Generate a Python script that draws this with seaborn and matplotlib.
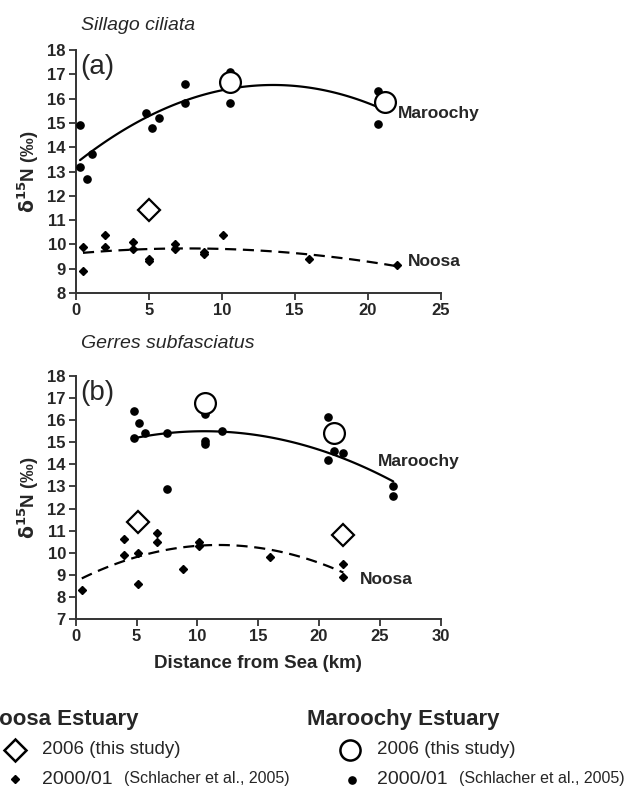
import matplotlib
matplotlib.use("Agg")
import matplotlib.pyplot as plt
import seaborn as sns
import numpy as np
import pandas as pd
from matplotlib.lines import Line2D

sns.set_theme(style="ticks")
plt.rcParams['font.family'] = ['Liberation Sans', 'DejaVu Sans']

# ---------------- Panel (a) Sillago ciliata ----------------
a_mar_x = [0.3, 0.3, 0.8, 1.1, 4.8, 5.2, 5.7, 7.5, 7.5, 10.6, 10.6, 20.7, 20.7]
a_mar_y = [14.9, 13.2, 12.7, 13.7, 15.4, 14.8, 15.2, 16.6, 15.8, 15.8, 17.1, 16.3, 14.95]
a_mar06_x = [10.6, 21.2]
a_mar06_y = [16.7, 15.85]
a_noo_x = [0.5, 0.5, 2.0, 2.0, 3.9, 3.9, 5.0, 5.0, 6.8, 6.8, 8.8, 8.8, 10.1, 16.0, 22.0]
a_noo_y = [9.9, 8.9, 10.4, 9.9, 10.1, 9.8, 9.4, 9.3, 10.0, 9.8, 9.7, 9.6, 10.4, 9.4, 9.15]
a_noo06_x = [5.0]
a_noo06_y = [11.4]

# ---------------- Panel (b) Gerres subfasciatus ----------------
b_mar_x = [4.8, 5.2, 4.8, 5.7, 7.5, 7.5, 10.6, 10.6, 10.6, 12.0, 20.7, 21.2, 22.0, 20.7, 26.1, 26.1]
b_mar_y = [16.4, 15.85, 15.2, 15.4, 15.4, 12.9, 16.3, 15.05, 14.9, 15.5, 16.15, 14.6, 14.5, 14.2, 13.0, 12.55]
b_mar06_x = [10.6, 21.2]
b_mar06_y = [16.8, 15.4]
b_noo_x = [0.5, 4.0, 4.0, 5.1, 5.1, 6.7, 6.7, 8.8, 10.1, 10.1, 16.0, 22.0, 22.0]
b_noo_y = [8.3, 10.6, 9.9, 10.0, 8.6, 10.9, 10.5, 9.25, 10.5, 10.3, 9.8, 9.5, 8.9]
b_noo06_x = [5.1, 22.0]
b_noo06_y = [11.4, 10.8]

a_xticks = [0, 5, 10, 15, 20, 25]
a_yticks = list(range(8, 19))
b_xticks = [0, 5, 10, 15, 20, 25, 30]
b_yticks = list(range(7, 19))

W, H = 637, 798
fig = plt.figure(figsize=(W / 100, H / 100), dpi=100)
ax1 = fig.add_axes([75.7 / W, 1 - 293 / H, 365 / W, 243 / H])
ax2 = fig.add_axes([75.7 / W, 1 - 619 / H, 365 / W, 243 / H])


def draw(ax, mx, my, m6x, m6y, nx, ny, n6x, n6y):
    dm = pd.DataFrame({"x": mx, "y": my})
    dn = pd.DataFrame({"x": nx, "y": ny})
    sns.regplot(data=dm, x="x", y="y", order=2, ci=None, scatter=False, truncate=True,
                ax=ax, line_kws=dict(color="black", lw=1.6))
    sns.regplot(data=dn, x="x", y="y", order=2, ci=None, scatter=False, truncate=True,
                ax=ax, line_kws=dict(color="black", lw=1.6, ls=(0, (5, 3))))
    ax.plot(mx, my, "o", ms=5.2, color="black", ls="none", zorder=3)
    ax.plot(nx, ny, "D", ms=3.6, color="black", ls="none", zorder=3)
    ax.plot(m6x, m6y, "o", ms=15, mfc="white", mec="black", mew=1.6, ls="none", zorder=4)
    ax.plot(n6x, n6y, "D", ms=11, mfc="white", mec="black", mew=1.6, ls="none", zorder=4)


draw(ax1, a_mar_x, a_mar_y, a_mar06_x, a_mar06_y, a_noo_x, a_noo_y, a_noo06_x, a_noo06_y)
draw(ax2, b_mar_x, b_mar_y, b_mar06_x, b_mar06_y, b_noo_x, b_noo_y, b_noo06_x, b_noo06_y)

for ax, xt, yt in [(ax1, a_xticks, a_yticks), (ax2, b_xticks, b_yticks)]:
    ax.set_xlim(xt[0], xt[-1])
    ax.set_ylim(yt[0], yt[-1])
    ax.set_xticks(xt)
    ax.set_yticks(yt)
    ax.set_xlabel("")
    ax.set_ylabel(r"$\mathbf{\delta^{15}}$N (‰)", fontsize=13.5, fontweight="bold", labelpad=5)
    for s in ["top", "right"]:
        ax.spines[s].set_visible(False)
    for s in ["left", "bottom"]:
        ax.spines[s].set_linewidth(1.4)
        ax.spines[s].set_color("#333333")
    ax.tick_params(axis="both", direction="out", length=5, width=1.3, color="#333333",
                   labelsize=12, pad=2)
    for lab in ax.get_xticklabels() + ax.get_yticklabels():
        lab.set_fontweight("bold")

ax2.set_xlabel("Distance from Sea (km)", fontsize=13.5, fontweight="bold", labelpad=8)

# panel titles / letters
fig.text(81 / W, 1 - 25 / H, "Sillago ciliata", fontsize=14, style="italic", va="center", ha="left")
fig.text(81 / W, 1 - 343 / H, "Gerres subfasciatus", fontsize=14, style="italic", va="center", ha="left")
ax1.text(0.012, 0.985, "(a)", transform=ax1.transAxes, fontsize=20, va="top", ha="left")
ax2.text(0.012, 0.985, "(b)", transform=ax2.transAxes, fontsize=20, va="top", ha="left")

# curve labels
ax1.text(22.1, 15.4, "Maroochy", fontsize=12.5, fontweight="bold", va="center", ha="left", clip_on=False)
ax1.text(22.76, 9.29, "Noosa", fontsize=12.5, fontweight="bold", va="center", ha="left", clip_on=False)
ax2.text(24.84, 14.12, "Maroochy", fontsize=12.5, fontweight="bold", va="center", ha="left", clip_on=False)
ax2.text(23.36, 8.81, "Noosa", fontsize=12.5, fontweight="bold", va="center", ha="left", clip_on=False)

# legend
def fx(px):
    return px / W


def fy(py):
    return 1 - py / H


fig.text(fx(-17), fy(720), "Noosa Estuary", fontsize=16, fontweight="bold", va="center", ha="left")
fig.text(fx(307), fy(720), "Maroochy Estuary", fontsize=16, fontweight="bold", va="center", ha="left")
fig.add_artist(Line2D([fx(15)], [fy(750)], marker="D", ms=11, mfc="white", mec="black", mew=1.8,
                      transform=fig.transFigure))
fig.add_artist(Line2D([fx(15)], [fy(779)], marker="D", ms=3.6, color="black", transform=fig.transFigure))
fig.add_artist(Line2D([fx(350)], [fy(750)], marker="o", ms=14.5, mfc="white", mec="black", mew=1.8,
                      transform=fig.transFigure))
fig.add_artist(Line2D([fx(352)], [fy(780)], marker="o", ms=5.2, color="black", transform=fig.transFigure))
fig.text(fx(42), fy(750), "2006 (this study)", fontsize=13.5, va="center", ha="left")
fig.text(fx(377), fy(750), "2006 (this study)", fontsize=13.5, va="center", ha="left")
fig.text(fx(42), fy(779), "2000/01", fontsize=14, va="center", ha="left")
fig.text(fx(124), fy(779), "(Schlacher et al., 2005)", fontsize=11.5, va="center", ha="left")
fig.text(fx(377), fy(779), "2000/01", fontsize=14, va="center", ha="left")
fig.text(fx(459), fy(779), "(Schlacher et al., 2005)", fontsize=11.5, va="center", ha="left")

fig.savefig("out.png", dpi=100)
